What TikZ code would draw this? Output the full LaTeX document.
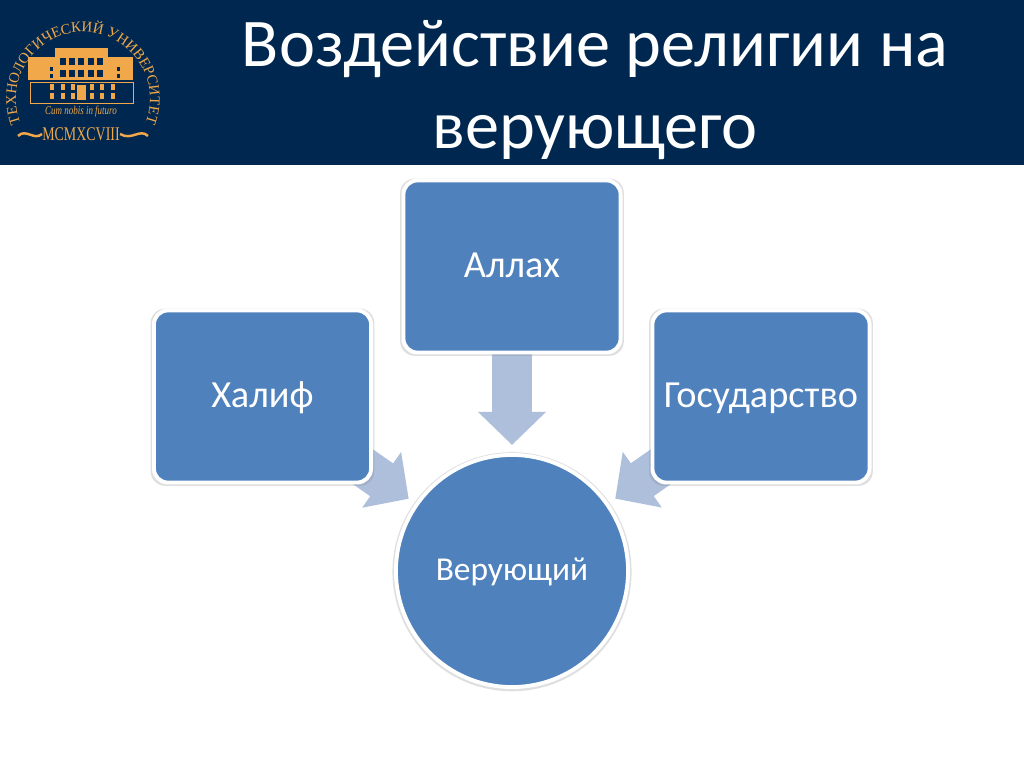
\documentclass[tikz,border=0pt]{standalone}
\usepackage{fontspec}
\setmainfont{Carlito}
\newfontfamily\logofont{Liberation Serif}
\usetikzlibrary{arrows.meta,shadows,backgrounds,decorations.text}
\definecolor{headnavy}{HTML}{00274F}
\definecolor{boxblue}{HTML}{4F81BD}
\definecolor{arrowblue}{HTML}{AEBFDC}
\definecolor{logogold}{HTML}{F0A84A}
\begin{document}
\begin{tikzpicture}[
  x=0.01cm, y=-0.01cm,
  softshadow/.style={drop shadow={shadow xshift=0pt, shadow yshift=-0.2pt, shadow scale=1.03, opacity=0.25}},
  box/.style={draw=white, line width=1.1pt, fill=boxblue, rounded corners=0.14cm, minimum width=2.17cm, minimum height=1.72cm, inner sep=0pt, text=white, text height=8pt, text depth=1.6pt, font=\fontsize{10.9}{12}\selectfont, softshadow},
  believer/.style={draw=white, line width=1.1pt, fill=boxblue, circle, minimum size=2.32cm, inner sep=0pt, text=white, text height=7pt, text depth=1.4pt, font=\fontsize{9.5}{11}\selectfont, softshadow},
  blockarrow/.style={draw=arrowblue, line width=0.4cm, shorten >=1.26cm, -{Triangle[width=0.66cm, length=0.33cm, fill=arrowblue]}},
  title/.style={text=white, align=center, font=\fontsize{19.4}{23.4}\selectfont},
  logotext/.style={text=logogold, font=\logofont\fontsize{#1}{#1}\selectfont},
]
\useasboundingbox (0,0) rectangle (1024,767);
% Header
\fill[headnavy] (0,0) rectangle (1024,165);
\node[title] (head) at (595,90) {Воздействие религии на\\верующего};
% Logo
\fill[logogold] (28,57) rectangle (133,80);
\fill[logogold] (55,48) rectangle (108,80);
\draw[logogold, line width=0.2pt] (30,82) rectangle (133,103);
\foreach \wx in {60,69,78,88,97} {
  \fill[headnavy] (\wx,58) rectangle +(6,7);
  \fill[headnavy] (\wx,70) rectangle +(6,7);
}
\foreach \wx in {50,117} {
  \fill[headnavy] (\wx,67) rectangle +(3,4);
  \fill[headnavy] (\wx,74) rectangle +(3,4);
}
\foreach \wx in {50,61,71,90,100,111} {
  \fill[logogold] (\wx,84) rectangle +(4,6);
  \fill[logogold] (\wx,93) rectangle +(4,6);
}
\fill[logogold] (77,85) rectangle (86,100);
\path[postaction={decorate, decoration={text along path, text align=center, text color=logogold,
  text={|\logofont\fontsize{4.2}{5}\selectfont|ТЕХНОЛОГИЧЕСКИЙ УНИВЕРСИТЕТ}}}]
  (22.3,127.3) arc[start angle=155, end angle=385, radius=67];
\node[logotext=3.4, font=\logofont\itshape\fontsize{3.4}{4}\selectfont, xscale=0.75] (motto) at (81,112) {Cum nobis in futuro};
\node[logotext=5.5, xscale=0.72] (year) at (81,134) {MCMXCVIII};
\draw[logogold, line width=0.7pt] (18,136) .. controls (26,128) and (34,141) .. (42,134);
\draw[logogold, line width=0.7pt] (148,136) .. controls (140,128) and (132,141) .. (120,134);
% Diagram
\node[box] (allah) at (512,266.5) {Аллах};
\node[box] (halif) at (262.5,396.5) {Халиф};
\node[box] (state) at (761,396.5) {Государство};
\node[believer] (verun) at (512,571) {Верующий};
\begin{pgfonlayer}{background}
\fill[white] (0,0) rectangle (1024,767);
\draw[blockarrow] (allah.center) -- (verun.center);
\draw[blockarrow] (halif.center) -- (verun.center);
\draw[blockarrow] (state.center) -- (verun.center);
\end{pgfonlayer}
\end{tikzpicture}
\end{document}
